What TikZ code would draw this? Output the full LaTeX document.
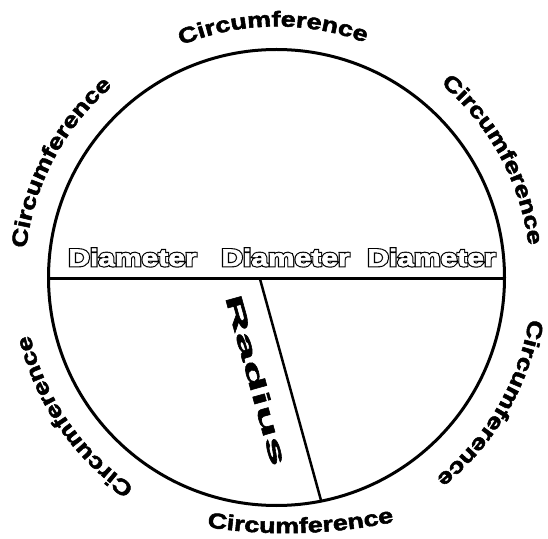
\documentclass[tikz,border=0pt]{standalone}
\usepackage{fontspec}
\usetikzlibrary{decorations.text}
\newfontfamily\blackfont[FakeStretch=1.25,FakeBold=2.5]{Liberation Sans Bold}
\newfontfamily\outlinefont[FakeStretch=1.25,FakeBold=12]{Liberation Sans Bold}
\newfontfamily\radfont[FakeStretch=2.3,FakeBold=2.5]{Liberation Sans Bold}
\begin{document}
\begin{tikzpicture}[x=1pt,y=1pt,
  rim/.style={line width=3pt},
  circlabel/.style={decorate, decoration={text along path, text align=center,
     text={|\blackfont\fontsize{21.5}{22}\selectfont|Circumference}}},
  diamedge/.style={anchor=base, inner sep=0pt, text=black, font=\outlinefont\fontsize{24}{24}\selectfont},
  diamfill/.style={anchor=base, inner sep=0pt, text=white, font=\blackfont\fontsize{24}{24}\selectfont},
]
\useasboundingbox (0,0) rectangle (548,538);
\coordinate (O) at (276.5,260.5);
\draw[rim] (O) circle[radius=228];
\coordinate (dL) at (48.5,259);
\coordinate (dR) at (504.5,259);
\draw[line width=3pt] (dL) -- (dR);
\coordinate (rA) at (260,259);
\coordinate (rB) at (321.2,36.9);
\draw[line width=2.5pt] (rA) -- (rB);

\node[diamedge] (d1) at (132.5,272) {Diameter};
\node[diamfill] (d1w) at (d1.base) {Diameter};
\node[diamedge] (d2) at (285.5,272) {Diameter};
\node[diamfill] (d2w) at (d2.base) {Diameter};
\node[diamedge] (d3) at (431.5,272) {Diameter};
\node[diamfill] (d3w) at (d3.base) {Diameter};

\node[rotate=-74.5, font=\radfont\fontsize{23}{23}\selectfont, inner sep=0pt] (rad) at (256.5,158) {Radius};

\path[circlabel] (O) ++(150.8:251) arc[start angle=150.8, end angle=30.8, radius=251];
\path[circlabel] (O) ++(212:252) arc[start angle=212, end angle=92, radius=252];
\path[circlabel] (O) ++(88.5:254) arc[start angle=88.5, end angle=-31.5, radius=254];
\path[circlabel] (O) ++(29.6:256) arc[start angle=29.6, end angle=-90.4, radius=256];
\path[circlabel] (O) ++(-85.5:253) arc[start angle=-85.5, end angle=-205.5, radius=253];
\coordinate (b0) at (207,11);
\coordinate (b1) at (394,16);
\path[circlabel] (b0) .. controls (267.3,1.33) and (329.7,3) .. (b1);
\end{tikzpicture}
\end{document}
